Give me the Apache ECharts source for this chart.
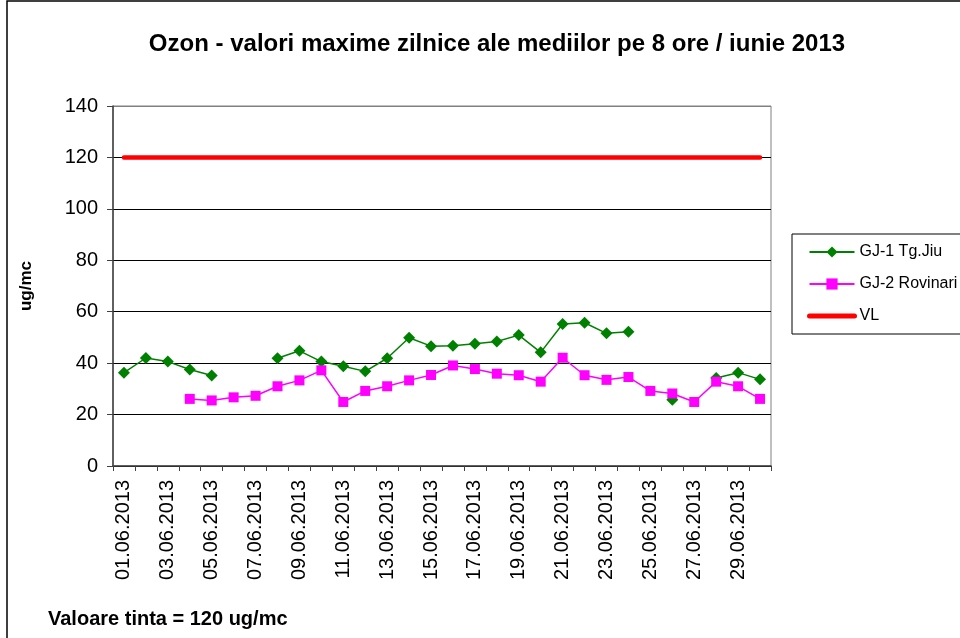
<!DOCTYPE html>
<html>
<head>
<meta charset="utf-8">
<script src="https://cdn.jsdelivr.net/npm/echarts@6/dist/echarts.min.js"></script>
<style>
  html, body { margin: 0; padding: 0; background: #fff; }
  #chart { width: 960px; height: 638px; }
</style>
</head>
<body>
<div id="chart"></div>
<script>
var days = ['01.06.2013', '02.06.2013', '03.06.2013', '04.06.2013', '05.06.2013', '06.06.2013',
    '07.06.2013', '08.06.2013', '09.06.2013', '10.06.2013', '11.06.2013', '12.06.2013',
    '13.06.2013', '14.06.2013', '15.06.2013', '16.06.2013', '17.06.2013', '18.06.2013',
    '19.06.2013', '20.06.2013', '21.06.2013', '22.06.2013', '23.06.2013', '24.06.2013',
    '25.06.2013', '26.06.2013', '27.06.2013', '28.06.2013', '29.06.2013', '30.06.2013'];

// GJ-1 Tg.Jiu
var tgJiu = [36.3, 42.0, 40.6, 37.5, 35.2, null, null, 41.9, 44.8, 40.6, 38.8, 36.8, 41.9, 49.9, 46.6,
    46.8, 47.5, 48.4, 50.9, 44.2, 55.2, 55.7, 51.6, 52.2, null, 25.8, null, 34.2, 36.3, 33.7];

// GJ-2 Rovinari
var rovinari = [null, null, null, 26.1, 25.5, 26.7, 27.3, 31.0, 33.3, 37.2, 24.9, 29.2, 31.0, 33.3, 35.4,
    39.1, 37.7, 35.9, 35.3, 32.8, 42.1, 35.3, 33.5, 34.6, 29.2, 28.2, 24.9, 32.8, 31.0, 26.1];

// valoare tinta
var vl = [120, 120, 120, 120, 120, 120, 120, 120, 120, 120, 120, 120, 120, 120, 120,
    120, 120, 120, 120, 120, 120, 120, 120, 120, 120, 120, 120, 120, 120, 120];

var yTicks = [0, 20, 40, 60, 80, 100, 120, 140];

var font = 'Liberation Sans, Arial, sans-serif';

var myChart = echarts.init(document.getElementById('chart'));
var option = {
    backgroundColor: '#fff',
    animation: false,
    title: {
        text: 'Ozon - valori maxime zilnice ale mediilor pe 8 ore / iunie 2013',
        left: 492,
        top: 27,
        textAlign: 'center',
        textStyle: { fontFamily: font, fontSize: 24, fontWeight: 'bold', color: '#000' }
    },
    graphic: [
        {
            type: 'rect',
            shape: { x: 7, y: 1, width: 1000, height: 700 },
            style: { fill: 'none', stroke: '#000', lineWidth: 1.5 },
            silent: true
        },
        {
            type: 'text',
            left: 48,
            top: 609,
            style: { text: 'Valoare tinta = 120 ug/mc', fontFamily: font, fontSize: 20, fontWeight: 'bold', fill: '#000' }
        }
    ],
    legend: {
        orient: 'vertical',
        left: 792,
        top: 234,
        padding: [10, 40, 10, 15],
        itemGap: 16,
        itemWidth: 45,
        itemHeight: 14,
        borderColor: '#000',
        borderWidth: 1,
        textStyle: { fontFamily: font, fontSize: 16, color: '#000' },
        data: [
            'GJ-1 Tg.Jiu',
            'GJ-2 Rovinari',
            { name: 'VL', itemStyle: { color: 'transparent', borderWidth: 0 }, lineStyle: { width: 5 } }
        ]
    },
    grid: {
        left: 113,
        right: 189,
        top: 106,
        bottom: 172,
        show: true,
        borderColor: '#808080',
        borderWidth: 1
    },
    xAxis: {
        type: 'category',
        data: days,
        boundaryGap: true,
        axisLine: { lineStyle: { color: '#404040', width: 1.5 } },
        axisTick: { show: true, interval: 0, length: 5, lineStyle: { color: '#404040' } },
        axisLabel: {
            interval: 1,
            rotate: 90,
            margin: 14,
            fontFamily: font,
            fontSize: 20,
            color: '#000'
        }
    },
    yAxis: {
        type: 'value',
        min: yTicks[0],
        max: yTicks[yTicks.length - 1],
        interval: 20,
        name: 'ug/mc',
        nameLocation: 'middle',
        nameGap: 78,
        nameTextStyle: { fontFamily: font, fontSize: 17, fontWeight: 'bold', color: '#000' },
        axisLine: { show: true, lineStyle: { color: '#404040', width: 1.5 } },
        axisTick: { show: true, length: 6, lineStyle: { color: '#404040' } },
        axisLabel: { margin: 15, fontFamily: font, fontSize: 20, color: '#000' },
        splitLine: {
            show: true,
            lineStyle: { color: ['#000', '#000', '#000', '#000', '#000', '#000', '#000', '#808080'], width: 1 }
        }
    },
    series: [
        {
            name: 'GJ-1 Tg.Jiu',
            type: 'line',
            data: tgJiu,
            symbol: 'diamond',
            symbolSize: 12,
            color: '#008000',
            lineStyle: { color: '#008000', width: 1.5 },
            itemStyle: { color: '#008000' }
        },
        {
            name: 'GJ-2 Rovinari',
            type: 'line',
            data: rovinari,
            symbol: 'rect',
            symbolSize: 10,
            color: '#FF00FF',
            lineStyle: { color: '#FF00FF', width: 1.5 },
            itemStyle: { color: '#FF00FF' }
        },
        {
            name: 'VL',
            type: 'line',
            data: vl,
            symbol: 'none',
            color: '#FF0000',
            lineStyle: { color: '#FF0000', width: 4.5, cap: 'round' }
        }
    ]
};
myChart.setOption(option);
</script>
</body>
</html>
